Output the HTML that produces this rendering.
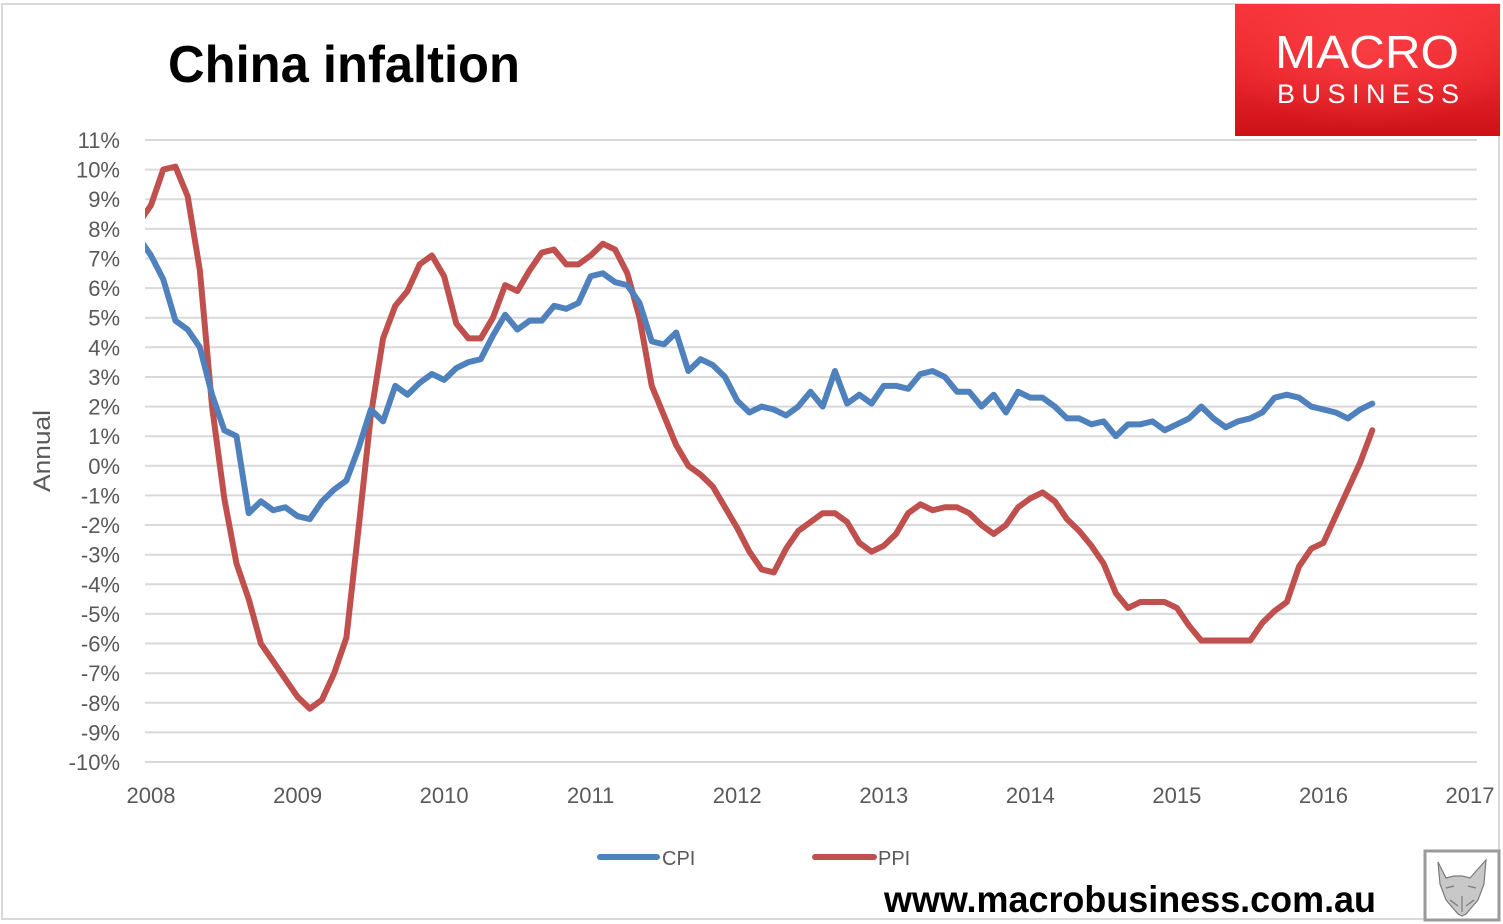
<!DOCTYPE html>
<html><head><meta charset="utf-8"><style>
html,body{margin:0;padding:0;background:#fff;}
svg{display:block;}
</style></head><body>
<svg width="1503" height="924" viewBox="0 0 1503 924" xmlns="http://www.w3.org/2000/svg">
<defs>
<linearGradient id="lg" x1="0" y1="0" x2="0" y2="1">
<stop offset="0" stop-color="#f7343a"/><stop offset="0.55" stop-color="#e8232a"/><stop offset="1" stop-color="#cc1218"/>
</linearGradient>
<radialGradient id="rg" cx="0.5" cy="0.35" r="0.6">
<stop offset="0" stop-color="#ff4a4f" stop-opacity="0.6"/><stop offset="1" stop-color="#ff4a4f" stop-opacity="0"/>
</radialGradient>
<clipPath id="plot"><rect x="145" y="100" width="1332" height="700"/></clipPath>
</defs>
<rect x="0" y="0" width="1503" height="924" fill="#fff"/>
<rect x="2" y="4" width="1497" height="915" fill="none" stroke="#d9d9d9" stroke-width="2"/>

<!-- gridlines -->
<g stroke="#d9d9d9" stroke-width="2">
<line x1="145" x2="1477" y1="140" y2="140"/>
<line x1="145" x2="1477" y1="169.6" y2="169.6"/>
<line x1="145" x2="1477" y1="199.2" y2="199.2"/>
<line x1="145" x2="1477" y1="228.9" y2="228.9"/>
<line x1="145" x2="1477" y1="258.5" y2="258.5"/>
<line x1="145" x2="1477" y1="288.1" y2="288.1"/>
<line x1="145" x2="1477" y1="317.7" y2="317.7"/>
<line x1="145" x2="1477" y1="347.3" y2="347.3"/>
<line x1="145" x2="1477" y1="377" y2="377"/>
<line x1="145" x2="1477" y1="406.6" y2="406.6"/>
<line x1="145" x2="1477" y1="436.2" y2="436.2"/>
<line x1="145" x2="1477" y1="465.8" y2="465.8"/>
<line x1="145" x2="1477" y1="495.4" y2="495.4"/>
<line x1="145" x2="1477" y1="525" y2="525"/>
<line x1="145" x2="1477" y1="554.7" y2="554.7"/>
<line x1="145" x2="1477" y1="584.3" y2="584.3"/>
<line x1="145" x2="1477" y1="613.9" y2="613.9"/>
<line x1="145" x2="1477" y1="643.5" y2="643.5"/>
<line x1="145" x2="1477" y1="673.2" y2="673.2"/>
<line x1="145" x2="1477" y1="702.8" y2="702.8"/>
<line x1="145" x2="1477" y1="732.4" y2="732.4"/>
<line x1="145" x2="1477" y1="762" y2="762"/>
</g>

<!-- y labels -->
<g font-family="'Liberation Sans', sans-serif" font-size="22" fill="#595959" text-anchor="end">
<text x="120" y="148">11%</text>
<text x="120" y="177.6">10%</text>
<text x="120" y="207.2">9%</text>
<text x="120" y="236.9">8%</text>
<text x="120" y="266.5">7%</text>
<text x="120" y="296.1">6%</text>
<text x="120" y="325.7">5%</text>
<text x="120" y="355.3">4%</text>
<text x="120" y="385">3%</text>
<text x="120" y="414.6">2%</text>
<text x="120" y="444.2">1%</text>
<text x="120" y="473.8">0%</text>
<text x="120" y="503.4">-1%</text>
<text x="120" y="533">-2%</text>
<text x="120" y="562.7">-3%</text>
<text x="120" y="592.3">-4%</text>
<text x="120" y="621.9">-5%</text>
<text x="120" y="651.5">-6%</text>
<text x="120" y="681.2">-7%</text>
<text x="120" y="710.8">-8%</text>
<text x="120" y="740.4">-9%</text>
<text x="120" y="770">-10%</text>
</g>

<!-- x labels -->
<g font-family="'Liberation Sans', sans-serif" font-size="22" fill="#595959" text-anchor="middle">
<text x="151" y="803">2008</text>
<text x="297.6" y="803">2009</text>
<text x="444.1" y="803">2010</text>
<text x="590.7" y="803">2011</text>
<text x="737.2" y="803">2012</text>
<text x="883.8" y="803">2013</text>
<text x="1030.4" y="803">2014</text>
<text x="1176.9" y="803">2015</text>
<text x="1323.5" y="803">2016</text>
<text x="1470" y="803">2017</text>
</g>

<text transform="translate(50,451) rotate(-90)" font-family="'Liberation Sans', sans-serif" font-size="24" fill="#595959" text-anchor="middle" textLength="82" lengthAdjust="spacingAndGlyphs">Annual</text>

<!-- series -->
<g clip-path="url(#plot)">
<g transform="translate(151,465.8) scale(12.213,-29.62)">
<polyline fill="none" stroke="#c0504d" stroke-width="6" stroke-linejoin="round" stroke-linecap="round" vector-effect="non-scaling-stroke" points="-1,8.2 0,8.8 1,10.0 2,10.1 3,9.1 4,6.6 5,2.0 6,-1.1 7,-3.3 8,-4.5 9,-6.0 10,-6.6 11,-7.2 12,-7.8 13,-8.2 14,-7.9 15,-7.0 16,-5.8 17,-2.1 18,1.7 19,4.3 20,5.4 21,5.9 22,6.8 23,7.1 24,6.4 25,4.8 26,4.3 27,4.3 28,5.0 29,6.1 30,5.9 31,6.6 32,7.2 33,7.3 34,6.8 35,6.8 36,7.1 37,7.5 38,7.3 39,6.5 40,5.0 41,2.7 42,1.7 43,0.7 44,0.0 45,-0.3 46,-0.7 47,-1.4 48,-2.1 49,-2.9 50,-3.5 51,-3.6 52,-2.8 53,-2.2 54,-1.9 55,-1.6 56,-1.6 57,-1.9 58,-2.6 59,-2.9 60,-2.7 61,-2.3 62,-1.6 63,-1.3 64,-1.5 65,-1.4 66,-1.4 67,-1.6 68,-2.0 69,-2.3 70,-2.0 71,-1.4 72,-1.1 73,-0.9 74,-1.2 75,-1.8 76,-2.2 77,-2.7 78,-3.3 79,-4.3 80,-4.8 81,-4.6 82,-4.6 83,-4.6 84,-4.8 85,-5.4 86,-5.9 87,-5.9 88,-5.9 89,-5.9 90,-5.9 91,-5.3 92,-4.9 93,-4.6 94,-3.4 95,-2.8 96,-2.6 97,-1.7 98,-0.8 99,0.1 100,1.2"/>
<polyline fill="none" stroke="#4f81bd" stroke-width="6" stroke-linejoin="round" stroke-linecap="round" vector-effect="non-scaling-stroke" points="-1,7.7 0,7.1 1,6.3 2,4.9 3,4.6 4,4.0 5,2.4 6,1.2 7,1.0 8,-1.6 9,-1.2 10,-1.5 11,-1.4 12,-1.7 13,-1.8 14,-1.2 15,-0.8 16,-0.5 17,0.6 18,1.9 19,1.5 20,2.7 21,2.4 22,2.8 23,3.1 24,2.9 25,3.3 26,3.5 27,3.6 28,4.4 29,5.1 30,4.6 31,4.9 32,4.9 33,5.4 34,5.3 35,5.5 36,6.4 37,6.5 38,6.2 39,6.1 40,5.5 41,4.2 42,4.1 43,4.5 44,3.2 45,3.6 46,3.4 47,3.0 48,2.2 49,1.8 50,2.0 51,1.9 52,1.7 53,2.0 54,2.5 55,2.0 56,3.2 57,2.1 58,2.4 59,2.1 60,2.7 61,2.7 62,2.6 63,3.1 64,3.2 65,3.0 66,2.5 67,2.5 68,2.0 69,2.4 70,1.8 71,2.5 72,2.3 73,2.3 74,2.0 75,1.6 76,1.6 77,1.4 78,1.5 79,1.0 80,1.4 81,1.4 82,1.5 83,1.2 84,1.4 85,1.6 86,2.0 87,1.6 88,1.3 89,1.5 90,1.6 91,1.8 92,2.3 93,2.4 94,2.3 95,2.0 96,1.9 97,1.8 98,1.6 99,1.9 100,2.1"/>
</g>
</g>

<!-- title -->
<text x="168" y="82" font-family="'Liberation Sans', sans-serif" font-weight="bold" font-size="52" fill="#000" textLength="352" lengthAdjust="spacingAndGlyphs">China infaltion</text>

<!-- logo -->
<rect x="1235" y="4" width="265" height="132" fill="url(#lg)"/>
<rect x="1235" y="4" width="265" height="132" fill="url(#rg)"/>
<text x="1275" y="68" font-family="'Liberation Sans', sans-serif" font-size="46" fill="#fff" textLength="184" lengthAdjust="spacingAndGlyphs">MACRO</text>
<text x="1277" y="103" font-family="'Liberation Sans', sans-serif" font-size="27" fill="#fff" textLength="182" lengthAdjust="spacing">BUSINESS</text>

<!-- legend -->
<line x1="600" y1="857" x2="657" y2="857" stroke="#4f81bd" stroke-width="6" stroke-linecap="round"/>
<text x="662" y="865" font-family="'Liberation Sans', sans-serif" font-size="20" fill="#595959">CPI</text>
<line x1="815" y1="857" x2="874" y2="857" stroke="#c0504d" stroke-width="6" stroke-linecap="round"/>
<text x="878" y="865" font-family="'Liberation Sans', sans-serif" font-size="20" fill="#595959">PPI</text>

<!-- footer -->
<text x="884" y="912" font-family="'Liberation Sans', sans-serif" font-weight="bold" font-size="37" fill="#000" textLength="492" lengthAdjust="spacingAndGlyphs">www.macrobusiness.com.au</text>

<!-- fox -->
<rect x="1425" y="851" width="74" height="69" fill="#fff" stroke="#9a9a9a" stroke-width="3"/>
<g fill="none" stroke="#7a7a7a" stroke-width="1.2">
<path d="M1438,862 L1446,878 L1454,876 L1462,876 L1470,878 L1486,860 L1484,884 L1478,900 L1466,914 L1462,916 L1458,914 L1446,900 L1440,884 Z" fill="#c8c8c8"/>
<path d="M1446,888 L1454,886 M1468,886 L1476,888 M1462,896 L1462,912 M1450,900 L1458,906 M1474,900 L1466,906"/>
</g>
</svg>
</body></html>
